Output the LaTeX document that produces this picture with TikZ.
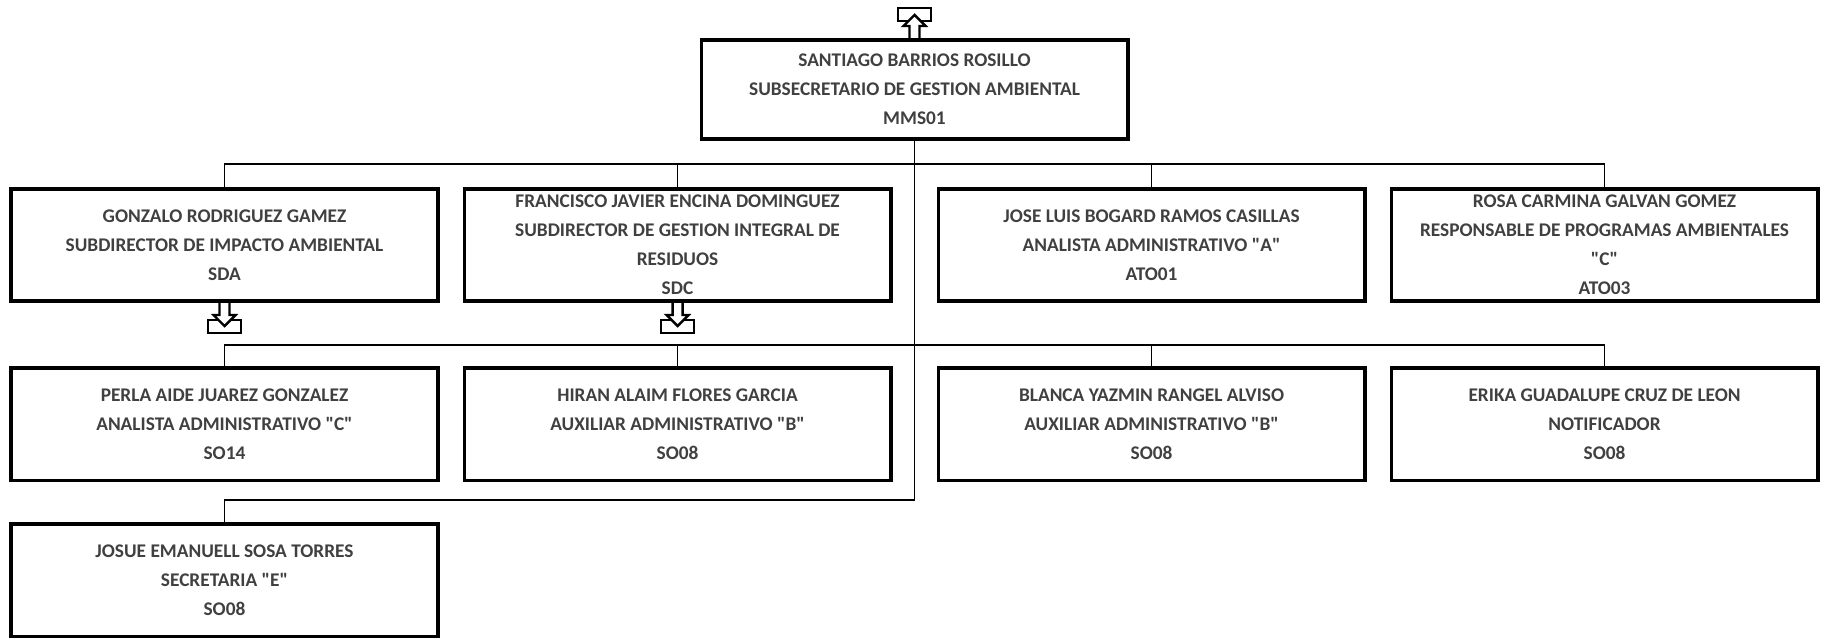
\documentclass[tikz,border=0pt]{standalone}
\usepackage{fontspec}
\setmainfont{Carlito}[Ligatures=TeXOff]
\usetikzlibrary{positioning,calc}
\definecolor{txtgray}{HTML}{404040}

\begin{document}
\begin{tikzpicture}[
    node distance=1.26cm and 0.46cm,
    box/.style={rectangle, draw, line width=2pt, align=center, inner sep=0pt, minimum width=8.53cm, minimum height=2.25cm, text=txtgray, font=\bfseries\fontsize{11}{16.5}\selectfont},
    headbox/.style={box, minimum height=1.99cm},
    link/.style={line width=1pt},
    icon/.style={line width=1.4pt, fill=white},
    trayicon/.pic={
      \filldraw[icon] (-0.33,-0.34) rectangle (0.33,-0.60);
      \filldraw[icon] (-0.1,0) -- (-0.1,-0.24) -- (-0.22,-0.24) -- (0,-0.46) -- (0.22,-0.24) -- (0.1,-0.24) -- (0.1,0);
    }
  ]
    \useasboundingbox (0,0) rectangle (36.46,-12.82);

    \node[headbox] (sub) at (18.29,-1.79) {SANTIAGO BARRIOS ROSILLO\\SUBSECRETARIO DE GESTION AMBIENTAL\\MMS01};

    \node[box] (gonz) at (4.49,-4.90) {GONZALO RODRIGUEZ GAMEZ\\SUBDIRECTOR DE IMPACTO AMBIENTAL\\SDA};
    \node[box, right=of gonz] (fran) {FRANCISCO JAVIER ENCINA DOMINGUEZ\\SUBDIRECTOR DE GESTION INTEGRAL DE\\RESIDUOS\\SDC};
    \node[box, right=0.88cm of fran] (jose) {JOSE LUIS BOGARD RAMOS CASILLAS\\ANALISTA ADMINISTRATIVO "A"\\ATO01};
    \node[box, right=of jose] (rosa) {ROSA CARMINA GALVAN GOMEZ\\RESPONSABLE DE PROGRAMAS AMBIENTALES\\"C"\\ATO03};

    \node[box, below=of gonz] (perla) {PERLA AIDE JUAREZ GONZALEZ\\ANALISTA ADMINISTRATIVO "C"\\SO14};
    \node[box, below=of fran] (hiran) {HIRAN ALAIM FLORES GARCIA\\AUXILIAR ADMINISTRATIVO "B"\\SO08};
    \node[box, below=of jose] (blanca) {BLANCA YAZMIN RANGEL ALVISO\\AUXILIAR ADMINISTRATIVO "B"\\SO08};
    \node[box, below=of rosa] (erika) {ERIKA GUADALUPE CRUZ DE LEON\\NOTIFICADOR\\SO08};

    \node[box, below=0.8cm of perla] (josue) {JOSUE EMANUELL SOSA TORRES\\SECRETARIA "E"\\SO08};

    % bus lines
    \coordinate (bus1) at ($(gonz.north)+(0,0.46)$);
    \coordinate (bus2) at ($(perla.north)+(0,0.42)$);
    \coordinate (bus3) at ($(josue.north)+(0,0.44)$);

    \draw[link] (sub.south) |- (bus3) -- (josue.north);

    \draw[link] (gonz.north) -- (bus1) -| (rosa.north);
    \draw[link] (fran.north) -- (fran.north |- bus1);
    \draw[link] (jose.north) -- (jose.north |- bus1);

    \draw[link] (perla.north) -- (bus2) -| (erika.north);
    \draw[link] (hiran.north) -- (hiran.north |- bus2);
    \draw[link] (blanca.north) -- (blanca.north |- bus2);

    % tray icons
    \pic[yscale=-1] at (sub.north) {trayicon};
    \pic at (gonz.south) {trayicon};
    \pic at (fran.south) {trayicon};

  \end{tikzpicture}
\end{document}
